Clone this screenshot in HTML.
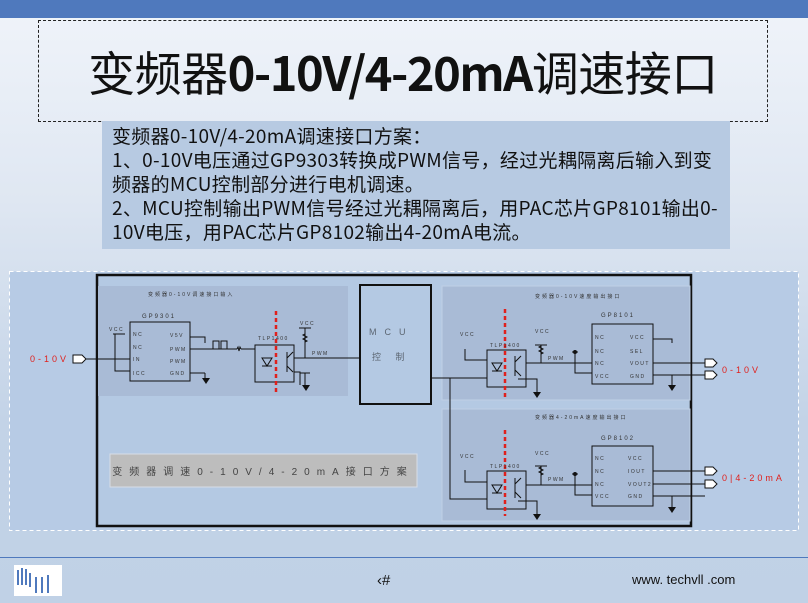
<!DOCTYPE html>
<html><head><meta charset="utf-8"><style>
*{margin:0;padding:0}
body{width:808px;height:603px;overflow:hidden;position:relative;background:linear-gradient(#f0f4fa 0px,#dfe7f2 200px,#c3d3e7 420px,#c0d1e6 603px);font-family:"Liberation Sans","Noto Sans CJK SC",sans-serif}
.top{position:absolute;left:0;top:0;width:808px;height:18px;background:#4f79bd}
.tbox{position:absolute;left:38px;top:20px;width:728px;height:100px;border:1px dashed #222}
.title{position:absolute;left:38px;top:36px;width:730px;text-align:center;font-size:47px;color:#111;font-family:"Noto Sans CJK SC",sans-serif;letter-spacing:-0.5px;white-space:nowrap}
.title b{font-weight:bold;font-family:"Noto Sans CJK SC",sans-serif;letter-spacing:-1.5px}
.desc{position:absolute;left:102px;top:121px;width:628px;height:128px;background:#b7cae2;font-family:"Noto Sans CJK SC",sans-serif;font-size:19px;line-height:24px;color:#111;padding:3px 0 0 10px;box-sizing:border-box;letter-spacing:0.3px;white-space:nowrap}
.foot{position:absolute;left:0;top:557px;width:808px;height:1px;background:#4f79bd}
</style></head><body>
<div class="top"></div>
<div class="tbox"></div>
<div class="title">变频器<b>0-10V/4-20mA</b>调速接口</div>
<div class="desc">变频器0-10V/4-20mA调速接口方案：<br>1、0-10V电压通过GP9303转换成PWM信号，经过光耦隔离后输入到变<br>频器的MCU控制部分进行电机调速。<br>2、MCU控制输出PWM信号经过光耦隔离后，用PAC芯片GP8101输出0-<br>10V电压，用PAC芯片GP8102输出4-20mA电流。</div>
<svg style="position:absolute;left:0;top:0" width="808" height="603" font-family="Liberation Sans, Noto Sans CJK SC, sans-serif">
<rect x="9.5" y="271.5" width="789" height="259" fill="#b7cbe5" stroke="#fff" stroke-dasharray="4,3"/>
<rect x="97" y="275" width="594" height="251" fill="#b4c9e3" stroke="#111" stroke-width="2.5"/>
<rect x="98" y="286" width="250" height="110" fill="#a9bbd6"/>
<rect x="442" y="286" width="248" height="114" fill="#a9bbd6" stroke="#c0d0e6"/>
<rect x="442" y="409" width="248" height="112" fill="#a9bbd6" stroke="#c0d0e6"/>
<rect x="110" y="454" width="307" height="33" fill="#bdbdbd" stroke="#d8dde6"/>
<text x="263" y="475" font-size="10" fill="#444" text-anchor="middle" letter-spacing="7">变频器调速0-10V/4-20mA接口方案</text>
<g font-size="5" fill="#333" letter-spacing="2">
<text x="148" y="296">变频器0-10V调速接口输入</text>
<text x="535" y="298">变频器0-10V速度输出接口</text>
<text x="535" y="419">变频器4-20mA速度输出接口</text>
<text x="142" y="318" font-size="6">GP9301</text>
<text x="601" y="317" font-size="6">GP8101</text>
<text x="601" y="440" font-size="6">GP8102</text>
</g>
<g fill="none" stroke="#111" stroke-width="1">
<rect x="130" y="322" width="60" height="59"/>
<rect x="255" y="345" width="39" height="37"/>
<rect x="592" y="324" width="61" height="60"/>
<rect x="592" y="446" width="61" height="60"/>
<rect x="487" y="350" width="39" height="37"/>
<rect x="487" y="471" width="39" height="38"/>
<rect x="360" y="285" width="71" height="119" stroke-width="2"/>
<path d="M86 359H130M115 334V371H130M113 334H125M190 349H237M241 349H255M237 349l1-2 1 4 1-4 1 2M190 373H205M205 373V378M190 337H205V343"/>
<path d="M213 349V341H219V349M221 349V341H227V349"/>
<path d="M294 358H360M305 328V358M299 328H311M305 334l-2 1 4 2-4 2 4 2-2 1M300 373H310M305 373V385M294 372H300V385"/>
<path d="M431 378H487M450 378V499H487M526 363H592M541 345V363M535 345H547M541 346l-2 1 4 2-4 2 4 2-2 1M575 352V373H592M572 352H578M653 363H705M653 375H705M653 496H705M653 484H705M653 471H705"/>
<path d="M526 485H592M541 466V485M535 466H547M541 467l-2 1 4 2-4 2 4 2-2 1M575 474V495H592M572 474H578M518 379H537V392M518 501H537V514"/>
<path d="M465 349V360H487M465 470V482H487M672 375V385M672 496V507M653 339H672V343"/>
<path d="M262 358H272L267 366Z M262 366H272 M287 352V372 M287 358L293 352 M287 366L293 372"/>
<path d="M492 363H502L497 371Z M492 371H502 M515 356V376 M515 362L521 356 M515 370L521 376"/>
<path d="M492 485H502L497 493Z M492 493H502 M515 478V498 M515 484L521 478 M515 492L521 498"/>
</g>
<g fill="#111" font-size="9" fill-opacity=".55"><text x="369" y="335" letter-spacing="8">MCU</text><text x="372" y="360" letter-spacing="6">控 制</text></g>
<g stroke="#e0201c" stroke-width="2.5" stroke-dasharray="4,3"><path d="M276 311V395M505 309V399M505 430V516"/></g>
<g fill="#fff" stroke="#111"><path d="M73 355H82L86 359L82 363H73Z"/><path d="M705 359H713L717 363L713 367H705Z"/><path d="M705 371H713L717 375L713 379H705Z"/><path d="M705 467H713L717 471L713 475H705Z"/><path d="M705 480H713L717 484L713 488H705Z"/></g>
<g fill="#e0201c" font-size="9" letter-spacing="3"><text x="30" y="362">0-10V</text><text x="722" y="373">0-10V</text><text x="722" y="481">0|4-20mA</text></g>
<g font-size="5" fill="#333" letter-spacing="1.5">
<text x="133" y="336">NC</text><text x="133" y="349">NC</text><text x="133" y="361">IN</text><text x="133" y="375">ICC</text><text x="170" y="337">V5V</text><text x="170" y="351">PWM</text><text x="170" y="363">PWM</text><text x="170" y="375">GND</text>
<text x="595" y="339">NC</text><text x="595" y="353">NC</text><text x="595" y="365">NC</text><text x="595" y="378">VCC</text><text x="630" y="339">VCC</text><text x="630" y="353">SEL</text><text x="630" y="365">VOUT</text><text x="630" y="378">GND</text>
<text x="595" y="460">NC</text><text x="595" y="473">NC</text><text x="595" y="486">NC</text><text x="595" y="498">VCC</text><text x="628" y="460">VCC</text><text x="628" y="473">IOUT</text><text x="628" y="486">VOUT2</text><text x="628" y="498">GND</text>
<text x="312" y="355">PWM</text><text x="548" y="360">PWM</text><text x="548" y="481">PWM</text>
<text x="109" y="331">VCC</text><text x="300" y="325">VCC</text><text x="460" y="336">VCC</text><text x="535" y="333">VCC</text><text x="460" y="458">VCC</text><text x="535" y="455">VCC</text><text x="258" y="340">TLP1400</text><text x="490" y="347">TLP1400</text><text x="490" y="468">TLP1400</text>
</g>
<g fill="#111"><path d="M202 378H210L206 384Z"/><path d="M302 385H310L306 391Z"/><path d="M533 392H541L537 398Z"/><path d="M533 514H541L537 520Z"/><path d="M668 385H676L672 391Z"/><path d="M668 507H676L672 513Z"/><circle cx="575" cy="352" r="2"/><circle cx="575" cy="474" r="2"/></g>
</svg>
<div class="foot"></div>
<div style="position:absolute;left:14px;top:565px;width:48px;height:31px;background:#fff"><svg width="48" height="31"><g stroke="#4f79bd" stroke-width="2"><path d="M4 5V20M8 3V20M12 4V20M16 8V22M22 12V28M28 12V28M34 10V28"/></g></svg></div>
<div style="position:absolute;left:377px;top:572px;font-size:15px;color:#111">‹#</div>
<div style="position:absolute;left:632px;top:572px;font-size:13px;color:#111">www. techvll .com</div>
</body></html>
